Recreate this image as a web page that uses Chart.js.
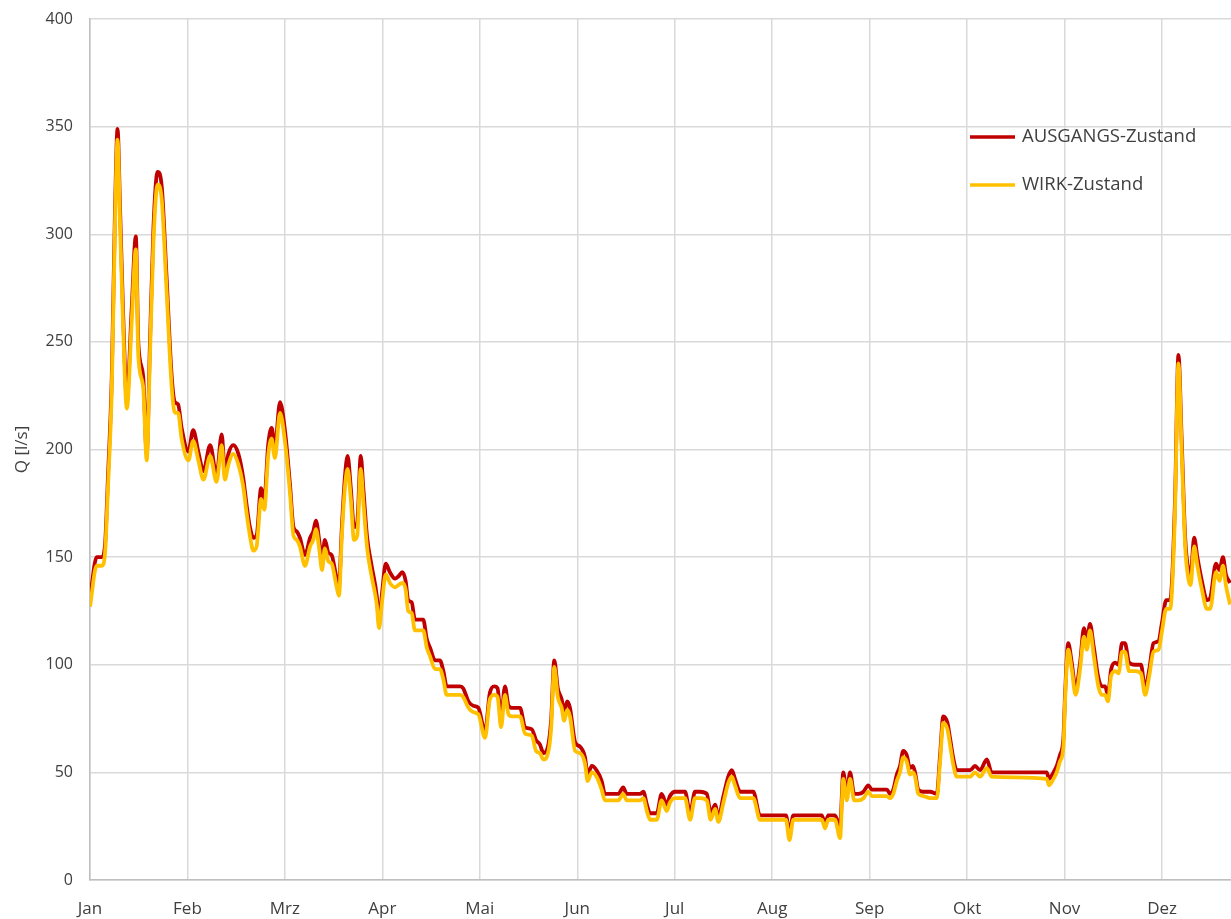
<!DOCTYPE html>
<html>
<head>
<meta charset="utf-8">
<script src="https://cdn.jsdelivr.net/npm/chart.js@4.4.1/dist/chart.umd.min.js"></script>
<style>
html,body{margin:0;padding:0;background:#fff;overflow:hidden;}
#wrap{width:1231px;height:919px;}
</style>
</head>
<body>
<div id="wrap"><canvas id="c" width="1231" height="919"></canvas></div>
<script>
const monthLabels = ['Jan','Feb','Mrz','Apr','Mai','Jun','Jul','Aug','Sep','Okt','Nov','Dez'];
const yTicks = [0,50,100,150,200,250,300,350,400];
const seriesNames = ['AUSGANGS-Zustand','WIRK-Zustand'];

// day of year (x position of each reading)
const days = [
0,2.1,3.7,4.7,5.6,6.8,7.8,8.6,9.4,10.3,11.5,13.0,14.3,15.1,16.6,17.7,18.7,19.8,21.1,22.4,
23.9,25.5,26.5,27.5,28.6,30.7,32.2,33.8,35.4,37.5,39.5,41.1,42.1,43.2,44.7,46.3,47.8,48.9,49.9,51.0,
52.0,53.4,54.4,55.6,56.7,57.7,59.3,60.9,62.4,63.5,64.5,65.5,67.1,68.7,69.7,70.5,71.6,72.4,73.3,74.4,
75.4,77.0,77.7,78.6,79.6,80.4,81.4,82.4,83.4,84.5,85.3,86.5,87.9,89.5,90.2,91.2,92.3,93.6,95.2,96.2,
97.5,98.5,99.3,100.4,101.4,104.0,105.1,106.1,107.7,109.2,110.3,111.3,115.5,116.5,118.1,119.6,121.2,123.3,124.8,126.2,
127.2,128.3,129.5,130.6,131.6,134.2,135.8,137.9,139.2,140.4,141.5,142.5,143.9,144.9,146.0,147.2,148.0,148.9,149.8,151.4,
152.9,154.5,155.3,156.6,158.1,159.7,160.7,162.3,164.9,166.4,167.5,171.7,172.7,173.8,174.8,176.9,178.4,180.0,181.0,182.6,
185.7,187.3,188.8,190.4,192.5,193.7,195.1,196.1,197.7,199.2,200.3,201.3,202.9,207.0,209.1,215.4,217.2,218.3,219.5,228.4,
229.4,230.4,232.5,234.1,235.1,236.2,237.2,238.5,239.8,241.4,242.9,244.0,244.5,248.7,249.7,250.7,251.8,252.8,253.8,254.9,
255.9,256.8,257.5,258.5,260.1,262.2,264.3,265.3,266.3,267.6,268.4,269.5,270.5,274.7,276.2,277.8,279.9,281.4,298.6,299.3,
300.7,301.7,302.7,303.8,304.3,305.3,306.4,307.6,309.0,310.2,311.1,312.1,313.2,314.7,315.8,316.8,317.7,318.7,320.0,321.0,
322.1,323.0,324.3,326.2,328.0,329.3,330.6,331.9,333.5,334.5,335.9,337.1,338.6,339.7,340.7,341.8,342.8,343.5,344.6,345.6,
347.0,348.6,349.6,351.4,352.5,353.6,354.5,355.8
];

// Q [l/s], AUSGANGS-Zustand
const ausgang = [
131,150,150,156,187,234,311,349,311,265,224,265,299,249,234,198,249,303,329,322,
280,234,222,221,210,199,209,199,190,202,188,207,190,198,202,198,187,174,164,159,
160,182,177,202,210,201,222,208,184,164,162,159,151,159,162,167,157,148,158,152,
151,140,137,164,188,197,182,164,166,197,182,159,146,132,120,134,147,143,140,141,
143,139,130,129,121,121,112,108,102,102,97,90,90,89,83,81,80,69,87,90,
89,75,90,81,80,80,71,70,65,63,59,60,74,102,89,84,78,83,80,64,
62,57,49,53,51,46,40,40,40,43,40,40,41,35,31,31,40,35,39,41,
41,31,41,41,40,31,35,29,39,48,51,47,41,41,30,30,30,22,30,30,
26,30,30,25,50,40,50,40,40,41,44,42,42,42,40,42,49,53,60,58,
52,53,50,42,41,41,40,58,76,73,66,56,51,51,53,51,56,50,50,47,
50,53,58,66,86,110,101,89,101,117,111,119,109,94,90,90,86,98,101,100,
110,110,101,100,100,89,98,110,111,119,130,130,175,244,205,159,144,142,159,150,
139,130,131,147,144,150,142,138
];

// Q [l/s], WIRK-Zustand
const wirk = [
127,146,146,152,182,228,304,344,304,259,219,259,293,243,229,195,243,296,323,316,
274,229,217,217,205,195,204,195,186,197,185,202,186,193,198,193,183,170,160,153,
155,177,172,197,205,196,217,203,180,160,158,155,146,155,158,163,153,144,154,148,
147,136,132,160,183,191,177,158,160,191,176,154,141,128,117,130,142,138,136,137,
138,135,125,124,116,116,108,104,98,98,93,86,86,85,80,78,77,66,84,86,
85,71,86,77,76,76,68,67,60,59,56,57,70,99,85,80,74,79,76,60,
59,54,46,50,48,42,37,37,37,40,37,37,38,32,28,28,37,32,36,38,
38,28,38,38,37,28,33,27,36,45,48,44,38,38,28,28,28,18.5,28,28,
24,28,28,19.5,47,37,47,37,37,38,41,39,39,39,38,40,46,50,57,55,
49,50,48,40,39,38,38,55,73,70,63,53,48,48,50,48,52,48,47,44,
47,50,55,62,83,107,98,86,98,113,107,116,105,90,86,86,83,95,97,96,
106,106,97,97,96,86,95,106,107,115,126,126,170,240,200,155,140,137,155,146,
135,126,126,143,139,146,137,128
];

const COLORS = ['#C00000', '#FFC000'];
const DAYS_PER_MONTH = 365 / 12;
const X_MAX = 356.1;
const FONT = '"Open Sans", sans-serif';

const legendPlugin = {
  id: 'inlineLegend',
  afterDatasetsDraw(chart) {
    const ctx = chart.ctx;
    ctx.save();
    chart.data.datasets.forEach((ds, i) => {
      const y = 137 + i * 48;
      ctx.strokeStyle = ds.borderColor;
      ctx.lineWidth = 3.5;
      ctx.beginPath();
      ctx.moveTo(970, y);
      ctx.lineTo(1015, y);
      ctx.stroke();
      ctx.fillStyle = '#404040';
      ctx.font = '18.5px ' + FONT;
      ctx.textBaseline = 'middle';
      ctx.textAlign = 'left';
      ctx.fillText(ds.label, 1022, y);
    });
    ctx.restore();
  }
};

new Chart(document.getElementById('c'), {
  type: 'line',
  data: {
    datasets: [
      {
        label: seriesNames[0],
        data: days.map((d, i) => ({x: d, y: ausgang[i]})),
        borderColor: COLORS[0],
        backgroundColor: COLORS[0],
        borderWidth: 3.8,
        pointRadius: 0,
        cubicInterpolationMode: 'monotone',
        order: 2
      },
      {
        label: seriesNames[1],
        data: days.map((d, i) => ({x: d, y: wirk[i]})),
        borderColor: COLORS[1],
        backgroundColor: COLORS[1],
        borderWidth: 3.8,
        pointRadius: 0,
        cubicInterpolationMode: 'monotone',
        order: 1
      }
    ]
  },
  options: {
    responsive: false,
    animation: false,
    devicePixelRatio: 1,
    layout: {padding: {top: 19, right: 0, left: 0, bottom: 0}},
    plugins: {legend: {display: false}, tooltip: {enabled: false}},
    scales: {
      x: {
        type: 'linear',
        min: 0,
        max: X_MAX,
        afterBuildTicks(scale) {
          scale.ticks = monthLabels.map((m, i) => ({value: i * DAYS_PER_MONTH}));
        },
        afterFit(scale) {
          scale.height = 39;
          scale.paddingLeft = 0;
          scale.paddingRight = 0;
        },
        ticks: {
          autoSkip: false,
          maxRotation: 0,
          padding: 19,
          color: '#404040',
          font: {family: FONT, size: 17},
          callback: (v, i) => monthLabels[i]
        },
        grid: {color: '#d9d9d9', lineWidth: 1.5, drawTicks: false},
        border: {color: '#bfbfbf', width: 1.5}
      },
      y: {
        min: 0,
        max: 400,
        afterBuildTicks(scale) {
          scale.ticks = yTicks.map(v => ({value: v}));
        },
        afterFit(scale) {
          scale.width = 90;
          scale.paddingTop = 0;
          scale.paddingBottom = 0;
        },
        ticks: {
          padding: 17,
          color: '#404040',
          font: {family: FONT, size: 16}
        },
        title: {
          display: true,
          text: 'Q [l/s]',
          color: '#404040',
          font: {family: FONT, size: 17},
          padding: {top: 12, bottom: 0}
        },
        grid: {color: '#d9d9d9', lineWidth: 1.5, drawTicks: false},
        border: {color: '#bfbfbf', width: 1.5}
      }
    }
  },
  plugins: [legendPlugin]
});
</script>
</body>
</html>
